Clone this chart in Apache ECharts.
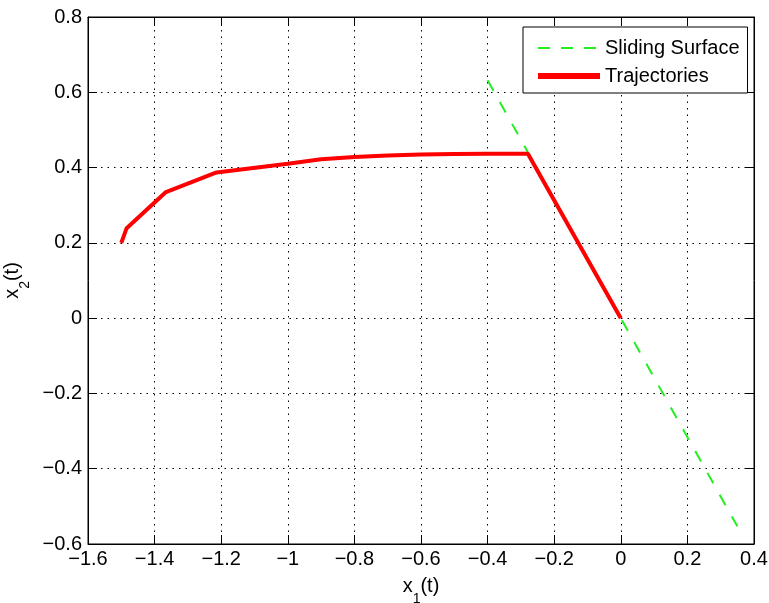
<!DOCTYPE html>
<html>
<head>
<meta charset="utf-8">
<script src="https://cdn.jsdelivr.net/npm/echarts@6/dist/echarts.min.js"></script>
<style>html,body{margin:0;padding:0;background:#fff}#c{width:769px;height:603px}</style>
</head>
<body>
<div id="c"></div>
<script>
// Data
const trajX = [-1.5, -1.484, -1.366, -1.214, -1.0, -0.9, -0.8, -0.7, -0.6, -0.5, -0.4, -0.279, 0.0];
const trajY = [0.2, 0.239, 0.335, 0.387, 0.41, 0.422, 0.428, 0.432, 0.435, 0.436, 0.437, 0.437, 0.0];
const surfX = [-0.4, 0.35];
const surfY = [0.632, -0.553];
const xTicks = [-1.6, -1.4, -1.2, -1, -0.8, -0.6, -0.4, -0.2, 0, 0.2, 0.4];
const yTicks = [-0.6, -0.4, -0.2, 0, 0.2, 0.4, 0.6, 0.8];
const seriesNames = ['Sliding Surface', 'Trajectories'];

const FONT = 'Liberation Sans, Arial, sans-serif';
function fmt(v) {
  let s = String(Math.round(v * 1000) / 1000);
  return s.replace('-', '\u2212');
}
const grid = {left: 88, right: 15, top: 17, bottom: 59, show: true, borderColor: '#000', borderWidth: 1, backgroundColor: '#fff', containLabel: false, outerBoundsMode: 'none'};
const dotted = {show: true, lineStyle: {color: '#000', width: 1, type: [1.5, 5]}};
const chart = echarts.init(document.getElementById('c'));
const baseX = {
  type: 'value', min: xTicks[0], max: xTicks[xTicks.length - 1], interval: 0.2
};
const baseY = {
  type: 'value', min: yTicks[0], max: yTicks[yTicks.length - 1], interval: 0.2
};
const nameRich = {x: {fontSize: 20, fontFamily: FONT, color: '#000'}, s: {fontSize: 14, fontFamily: FONT, color: '#000', verticalAlign: 'bottom', padding: [0,0,-10,0]}};
chart.setOption({
  animation: false,
  backgroundColor: '#fff',
  grid: grid,
  xAxis: [
    Object.assign({}, baseX, {
      position: 'bottom',
      axisLine: {show: true, onZero: false, lineStyle: {color: '#000', width: 1}},
      axisTick: {show: true, inside: true, length: 9, lineStyle: {color: '#000'}},
      axisLabel: {formatter: fmt, color: '#000', fontSize: 20, fontFamily: FONT, margin: 5},
      splitLine: dotted,
      name: '{x|x}{s|1}{x|(t)}', nameLocation: 'middle', nameGap: 32, nameMoveOverlap: false,
      nameTextStyle: {rich: nameRich}
    }),
    Object.assign({}, baseX, {
      position: 'top',
      axisLine: {show: true, onZero: false, lineStyle: {color: '#000'}},
      axisTick: {show: true, inside: true, length: 9, lineStyle: {color: '#000'}},
      axisLabel: {show: false}, splitLine: {show: false}
    })
  ],
  yAxis: [
    Object.assign({}, baseY, {
      position: 'left',
      axisLine: {show: true, onZero: false, lineStyle: {color: '#000', width: 1}},
      axisTick: {show: true, inside: true, length: 9, lineStyle: {color: '#000'}},
      axisLabel: {formatter: fmt, color: '#000', fontSize: 20, fontFamily: FONT, margin: 6},
      splitLine: dotted,
      name: '{x|x}{s|2}{x|(t)}', nameLocation: 'middle', nameGap: 66, nameRotate: 90, nameMoveOverlap: false,
      nameTextStyle: {rich: nameRich}
    }),
    Object.assign({}, baseY, {
      position: 'right',
      axisLine: {show: true, onZero: false, lineStyle: {color: '#000'}},
      axisTick: {show: true, inside: true, length: 9, lineStyle: {color: '#000'}},
      axisLabel: {show: false}, splitLine: {show: false}
    })
  ],
  legend: {
    show: true,
    orient: 'vertical', left: 523, top: 27, itemWidth: 62, itemHeight: 20, itemGap: 8,
    padding: [11, 8, 7, 12],
    backgroundColor: '#fff', borderColor: '#000', borderWidth: 1,
    textStyle: {fontSize: 20, fontFamily: FONT, color: '#000'},
    itemStyle: {opacity: 0},
    data: [
      {name: seriesNames[0], lineStyle: {color: '#22ee22', width: 2, type: [12, 11], opacity: 1}},
      {name: seriesNames[1], lineStyle: {color: '#ff0000', width: 6, opacity: 1}}
    ]
  },
  series: [
    {
      name: seriesNames[0], type: 'line', symbol: 'none', z: 3,
      data: surfX.map((x, i) => [x, surfY[i]]),
      lineStyle: {color: '#22ee22', width: 2, type: [12, 13]},
      itemStyle: {color: '#22ee22'}
    },
    {
      name: seriesNames[1], type: 'line', symbol: 'none', z: 4,
      data: trajX.map((x, i) => [x, trajY[i]]),
      lineStyle: {color: '#ff0000', width: 4},
      itemStyle: {color: '#ff0000'}
    }
  ]
});
</script>
</body>
</html>
